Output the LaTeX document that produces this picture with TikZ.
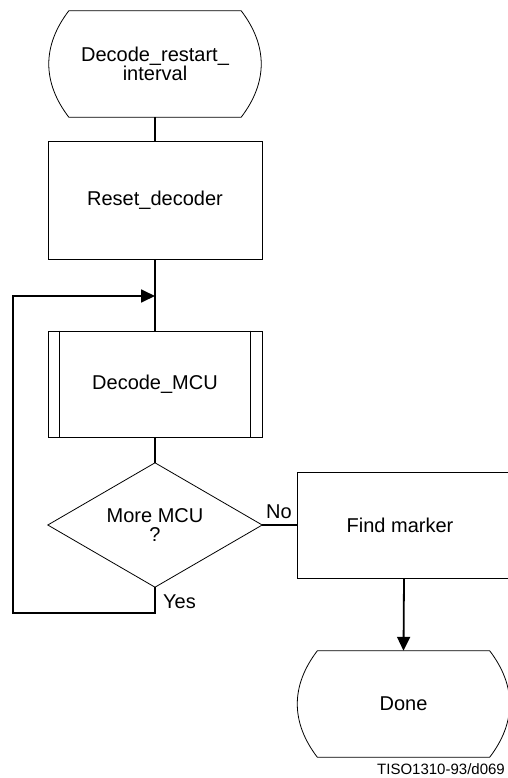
\documentclass[tikz,border=0pt]{standalone}
\usepackage{fontspec}
\setmainfont{Liberation Sans}
\usetikzlibrary{calc,arrows.meta}
\newcommand\termshape[1]{%
  \draw[outline] ($(#1.north west)+(20,0)$) -- ($(#1.north east)+(-20,0)$)
    .. controls ($(#1.north east)+(6.7,35)$) and ($(#1.south east)+(6.7,-35)$) .. ($(#1.south east)+(-20,0)$)
    -- ($(#1.south west)+(20,0)$)
    .. controls ($(#1.south west)+(-6.7,-35)$) and ($(#1.north west)+(-6.7,35)$) .. cycle;}
\begin{document}
\begin{tikzpicture}[x=1pt,y=-1pt,
  every node/.style={font=\fontsize{20}{19}\selectfont, inner sep=0pt, align=center},
  outline/.style={line width=0.8pt},
  box/.style={outline, draw, minimum width=214pt, minimum height=106pt},
  term/.style={minimum width=212pt, minimum height=106pt},
  conn/.style={line width=1.8pt},
  arr/.style={conn,-{Triangle[length=14pt,width=13pt]}},
  lbl/.style={font=\fontsize{20}{20}\selectfont}
]
\useasboundingbox (0,0) rectangle (507,778);

\node[term] (start) at (155,64) {Decode\_restart\_\\interval};
\termshape{start}

\node[box, minimum height=118pt] (reset) at (155,200) {\raisebox{-6pt}{Reset\_decoder}};

\node[box] (mcu) at (155,384) {Decode\_MCU};
\draw[outline] ($(mcu.north west)+(12,0)$) -- ($(mcu.south west)+(12,0)$);
\draw[outline] ($(mcu.north east)+(-12,0)$) -- ($(mcu.south east)+(-12,0)$);

\node[minimum width=214pt, minimum height=124pt] (dec) at (155,525) {More MCU\\?};
\draw[outline] (dec.north) -- (dec.east) -- (dec.south) -- (dec.west) -- cycle;

\node[box] (find) at (404,525) {\hspace*{-8pt}Find marker};

\node[term] (done) at (403.5,704) {Done};
\termshape{done}

\coordinate (join) at (155,296);
\coordinate (loopB) at (13,613);

\draw[conn] (start.south) -- (reset.north);
\draw[conn] (reset.south) -- (mcu.north);
\draw[conn] (mcu.south) -- (dec.north);
\draw[arr] (dec.south) |- (loopB) |- (join);
\draw[conn] (dec.east) -- (find.west);
\draw[arr] (find.south) -- (done.north);

\node[lbl, anchor=south west] (no) at (266,519) {No};
\node[lbl, anchor=west] (yes) at (163,602) {Yes};
\node[font=\fontsize{15}{15}\selectfont, anchor=east] (cap) at (505,769) {TISO1310-93/d069};
\end{tikzpicture}
\end{document}
